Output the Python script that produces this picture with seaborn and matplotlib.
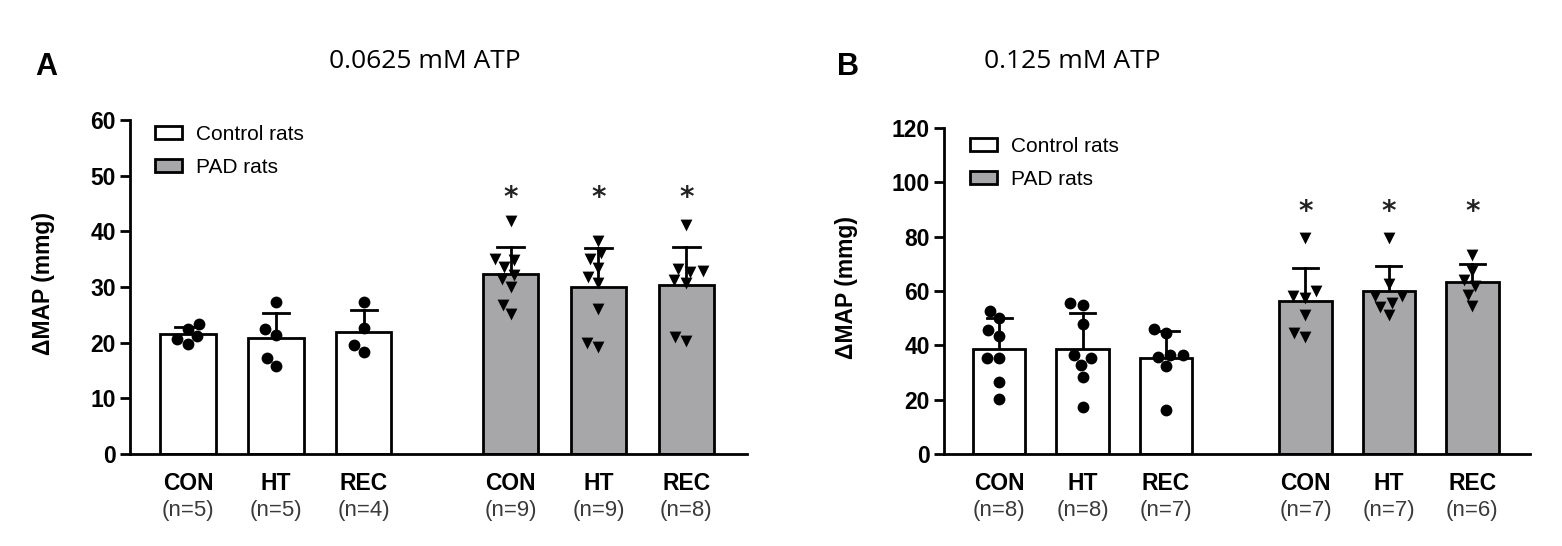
import pandas as pd
import matplotlib.pyplot as plt
import seaborn as sns
from matplotlib.patches import Patch

conditions = ['CON', 'HT', 'REC']
groups = ['Control rats', 'PAD rats']

# panel A, 0.0625 mM ATP
a_control = {
    'CON': [23.3, 19.8, 22.5, 21.2, 20.7],
    'HT': [27.3, 22.4, 21.4, 17.2, 15.8],
    'REC': [27.3, 22.6, 19.6, 18.3],
}
a_pad = {
    'CON': [41.8, 35.0, 34.8, 33.6, 32.2, 31.5, 30.0, 26.8, 25.1],
    'HT': [38.3, 35.0, 36.1, 33.4, 31.8, 30.7, 26.0, 19.2, 19.9],
    'REC': [41.1, 33.2, 31.2, 32.7, 32.9, 30.7, 20.3, 21.0],
}
# panel B, 0.125 mM ATP
b_control = {
    'CON': [52.7, 49.9, 43.4, 45.6, 35.4, 35.4, 26.4, 20.2],
    'HT': [55.5, 54.8, 47.7, 36.4, 35.2, 32.8, 28.5, 17.2],
    'REC': [45.9, 44.4, 36.5, 36.5, 35.8, 32.4, 16.2],
}
b_pad = {
    'CON': [79.6, 60.0, 57.5, 58.2, 51.2, 43.2, 44.4],
    'HT': [79.6, 62.5, 55.7, 58.2, 58.2, 51.2, 54.2],
    'REC': [73.2, 67.5, 64.0, 62.0, 58.5, 54.5],
}

star_a = 46
star_b = 89

titles = ['0.0625 mM ATP', '0.125 mM ATP']
panel_letters = ['A', 'B']
ylims = [(0, 60), (0, 120)]
ysteps = [10, 20]

gray = '#a7a7a9'
group_gap = 3.67


def make_frame(control, pad):
    rows = []
    for gi, (gname, d) in enumerate([(groups[0], control), (groups[1], pad)]):
        for ci, cond in enumerate(conditions):
            for v in d[cond]:
                rows.append({'group': gname, 'cond': cond, 'value': v,
                             'pos': ci + gi * group_gap})
    return pd.DataFrame(rows)


frames = [make_frame(a_control, a_pad), make_frame(b_control, b_pad)]
stars = [star_a, star_b]

fig = plt.figure(figsize=(15.62, 5.46), dpi=100)
axA = fig.add_axes([130 / 1562, 92 / 546, 617 / 1562, 334 / 546])
axB = fig.add_axes([944 / 1562, 92 / 546, 586 / 1562, 326 / 546])
axes = [axA, axB]
label_x = [-0.122, -0.147]
legend_anchor = [(0.04, 0.985), (0.044, 0.972)]

for i, ax in enumerate(axes):
    df = frames[i]
    sns.barplot(data=df, x='pos', y='value', hue='group', native_scale=True,
                dodge=False, width=0.63, errorbar='sd', capsize=0.3,
                palette={groups[0]: 'white', groups[1]: gray},
                edgecolor='black', linewidth=2,
                err_kws={'color': 'black', 'linewidth': 2, 'zorder': 0.5},
                legend=False, ax=ax)
    sns.swarmplot(data=df[df.group == groups[0]], x='pos', y='value',
                  native_scale=True, color='black', marker='o', size=8.5,
                  ax=ax, warn_thresh=1)
    sns.swarmplot(data=df[df.group == groups[1]], x='pos', y='value',
                  native_scale=True, color='black', marker='v', size=8.5,
                  ax=ax, warn_thresh=1)

    # significance stars over PAD bars
    for ci in range(3):
        ax.text(ci + group_gap, stars[i], '*', ha='center', va='center',
                fontsize=20, fontweight='bold', color='#222222')

    positions = sorted(df['pos'].unique())
    ax.set_xlim(-0.66, 5.67 + 0.69)
    ax.set_ylim(*ylims[i])
    ax.set_yticks(range(ylims[i][0], ylims[i][1] + 1, ysteps[i]))
    ax.set_xticks(positions)
    ax.set_xticklabels(conditions * 2, fontsize=16.5, fontweight='bold',
                       family='Liberation Sans')
    ax.tick_params(axis='x', length=0, pad=13)
    ax.tick_params(axis='y', length=7, width=2, labelsize=16.5, pad=3)
    for lab in ax.get_yticklabels():
        lab.set_fontweight('bold')
        lab.set_family('Liberation Sans')

    counts = df.groupby('pos')['value'].count()
    for p in positions:
        ax.annotate('(n=%d)' % counts[p], xy=(p, 0),
                    xycoords=('data', 'axes fraction'), xytext=(0, -41),
                    textcoords='offset points', ha='center', va='center',
                    fontsize=16, color='#3a3a3a', family='Liberation Sans')

    ax.set_xlabel('')
    ax.set_ylabel('ΔMAP (mmg)', fontsize=16.5, fontweight='bold',
                  family='Liberation Sans')
    ax.yaxis.set_label_coords(label_x[i], 0.51)
    for side in ['top', 'right']:
        ax.spines[side].set_visible(False)
    for side in ['left', 'bottom']:
        ax.spines[side].set_linewidth(2)

    handles = [Patch(facecolor='white', edgecolor='black', linewidth=2),
               Patch(facecolor=gray, edgecolor='black', linewidth=2)]
    ax.legend(handles, groups, loc='upper left',
              bbox_to_anchor=legend_anchor[i], frameon=False,
              borderaxespad=0, borderpad=0,
              handlelength=1.3, handleheight=0.58, handletextpad=0.7,
              labelspacing=0.65,
              prop={'family': 'Liberation Sans', 'size': 15})

fig.text(425 / 1562, 1 - 62 / 546, titles[0], ha='center', va='center',
         fontsize=19, family='Open Sans')
fig.text(1072 / 1562, 1 - 62 / 546, titles[1], ha='center', va='center',
         fontsize=19, family='Open Sans')
fig.text(46 / 1562, 1 - 67 / 546, panel_letters[0], ha='center', va='center',
         fontsize=22, fontweight='bold', family='Liberation Sans')
fig.text(848 / 1562, 1 - 67 / 546, panel_letters[1], ha='center', va='center',
         fontsize=22, fontweight='bold', family='Liberation Sans')

plt.savefig('out.png', dpi=100)
